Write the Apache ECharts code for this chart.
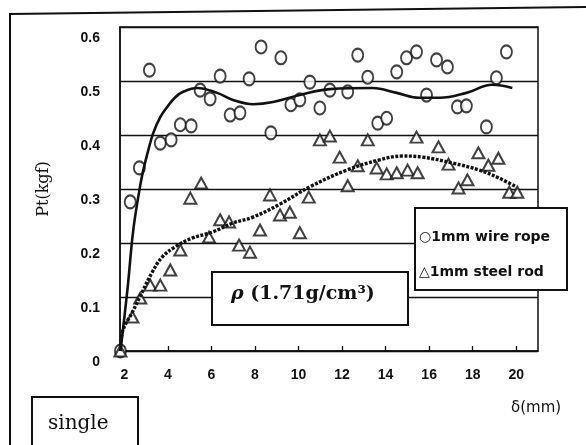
<!DOCTYPE html>
<html>
<head>
<meta charset="utf-8">
<script src="https://cdn.jsdelivr.net/npm/echarts@6/dist/echarts.min.js"></script>
<style>
  html, body { margin: 0; padding: 0; background: #fff; }
  #chart { width: 586px; height: 445px; }
</style>
</head>
<body>
<div id="chart"></div>
<script>
// measured points, 1mm wire rope (circles)
const ropeDelta = [1.82, 2.27, 2.69, 3.15, 3.65, 4.15, 4.57, 5.07, 5.48, 5.94, 6.40, 6.86, 7.31, 7.73, 8.28, 8.73, 9.19, 9.65, 10.06, 10.52, 10.98, 11.44, 12.26, 12.72, 13.18, 13.64, 14.05, 14.51, 14.96, 15.42, 15.88, 16.34, 16.84, 17.30, 17.71, 18.63, 19.09, 19.55]
const ropePt = [0, 0.276, 0.339, 0.52, 0.385, 0.391, 0.419, 0.417, 0.483, 0.467, 0.509, 0.437, 0.441, 0.504, 0.563, 0.404, 0.543, 0.456, 0.465, 0.498, 0.45, 0.483, 0.48, 0.548, 0.507, 0.422, 0.431, 0.517, 0.543, 0.554, 0.474, 0.539, 0.526, 0.452, 0.454, 0.415, 0.506, 0.554]

// measured points, 1mm steel rod (triangles)
const rodDelta = [1.82, 2.37, 2.73, 3.19, 3.65, 4.11, 4.57, 5.03, 5.53, 5.89, 6.40, 6.81, 7.27, 7.77, 8.23, 8.69, 9.15, 9.60, 10.06, 10.47, 10.98, 11.44, 11.89, 12.26, 12.72, 13.18, 13.59, 14.05, 14.51, 15.01, 15.47, 15.42, 16.43, 16.89, 17.35, 17.76, 18.26, 18.72, 19.18, 19.68, 20.05]
const rodPt = [0, 0.063, 0.098, 0.122, 0.122, 0.15, 0.187, 0.283, 0.311, 0.211, 0.243, 0.239, 0.196, 0.183, 0.224, 0.289, 0.252, 0.257, 0.219, 0.285, 0.391, 0.398, 0.359, 0.306, 0.343, 0.391, 0.339, 0.328, 0.33, 0.335, 0.33, 0.396, 0.378, 0.346, 0.302, 0.317, 0.367, 0.344, 0.357, 0.294, 0.294]

// trend curves
const ropeFitDelta = [1.82, 2.14, 2.41, 2.73, 2.87, 3.10, 3.33, 3.65, 3.97, 4.34, 4.70, 5.34, 6.26, 6.99, 7.91, 8.83, 10.06, 11.44, 13.41, 14.51, 15.56, 16.48, 17.71, 18.90, 19.82]
const ropeFitPt = [0, 0.113, 0.224, 0.307, 0.335, 0.372, 0.404, 0.433, 0.452, 0.47, 0.48, 0.487, 0.478, 0.465, 0.457, 0.461, 0.474, 0.485, 0.487, 0.478, 0.469, 0.469, 0.478, 0.493, 0.487]
const rodFitDelta = [1.82, 1.91, 2.37, 2.82, 3.28, 3.74, 4.34, 5.11, 6.03, 6.99, 7.91, 9.15, 10.52, 12.22, 13.73, 14.78, 15.70, 17.07, 18.31, 19.22, 20.0]
const rodFitPt = [0, 0.035, 0.072, 0.109, 0.146, 0.174, 0.193, 0.209, 0.22, 0.237, 0.248, 0.272, 0.304, 0.335, 0.354, 0.361, 0.359, 0.348, 0.335, 0.32, 0.304]

const xTicks = [2, 4, 6, 8, 10, 12, 14, 16, 18, 20]

const zip = (a, b) => a.map((v, i) => [v, b[i]])

const myChart = echarts.init(document.getElementById('chart'))

myChart.setOption({
  backgroundColor: '#fff',
  animation: false,
  grid: {
    left: 120, top: 27, width: 418, height: 324,
    show: true, borderColor: '#111', borderWidth: 1.5
  },
  xAxis: {
    type: 'value', min: 1.8, max: 21,
    axisLine: { lineStyle: { color: '#111', width: 1.5 } },
    axisTick: { inside: true, length: 5, customValues: xTicks, lineStyle: { color: '#111', width: 1.3 } },
    axisLabel: {
      customValues: xTicks, margin: 17,
      color: '#111', fontFamily: 'Liberation Sans', fontWeight: 'bold', fontSize: 14
    },
    splitLine: { show: false }
  },
  yAxis: {
    type: 'value', min: 0, max: 0.6, interval: 0.1,
    name: 'Pt(kgf)', nameLocation: 'middle', nameGap: 68, nameRotate: 90,
    nameTextStyle: { fontFamily: 'DejaVu Serif', fontSize: 16, color: '#111' },
    axisLine: { show: true, lineStyle: { color: '#111', width: 1.5 } },
    axisTick: { show: false },
    axisLabel: {
      margin: 20, verticalAlign: 'top', lineHeight: 22,
      color: '#111', fontFamily: 'Liberation Sans', fontWeight: 'bold', fontSize: 14,
      formatter: v => (v === 0 ? '0' : v.toFixed(1))
    },
    splitLine: { lineStyle: { color: '#111', width: 1.3 } }
  },
  series: [
    {
      name: '1mm wire rope', type: 'scatter',
      data: zip(ropeDelta, ropePt),
      symbol: 'emptyCircle', symbolSize: [11, 13],
      itemStyle: { color: '#111', borderWidth: 1.4 }
    },
    {
      name: '1mm steel rod', type: 'scatter',
      data: zip(rodDelta, rodPt),
      symbol: 'emptyTriangle', symbolSize: [12, 11],
      itemStyle: { color: '#111', borderWidth: 1.4 }
    },
    {
      type: 'line', data: zip(ropeFitDelta, ropeFitPt),
      smooth: 0.4, showSymbol: false, silent: true,
      lineStyle: { color: '#111', width: 2.6 }
    },
    {
      type: 'line', data: zip(rodFitDelta, rodFitPt),
      smooth: 0.4, showSymbol: false, silent: true,
      lineStyle: { color: '#111', width: 3.4, type: [3, 1.5] }
    }
  ],
  graphic: [
    // outer frame of the scanned figure
    { type: 'polyline', z: 10, shape: { points: [[10, 445], [10, 14], [586, 7]] }, style: { stroke: '#111', lineWidth: 2, fill: null } },
    // density box
    {
      type: 'rect', z: 20, shape: { x: 212, y: 272, width: 196, height: 53 },
      style: { fill: '#fff', stroke: '#111', lineWidth: 2 }
    },
    {
      type: 'text', z: 21, left: 231, top: 285,
      style: {
        text: '{i|ρ} (1.71g/cm³)', fill: '#111',
        font: 'bold 19px "DejaVu Serif"',
        rich: { i: { fontStyle: 'italic', fontFamily: 'DejaVu Serif', fontSize: 19, fontWeight: 'bold' } }
      }
    },
    // legend box
    {
      type: 'rect', z: 20, shape: { x: 415, y: 208, width: 152, height: 82 },
      style: { fill: '#fff', stroke: '#111', lineWidth: 2 }
    },
    { type: 'text', z: 21, left: 419, top: 230, style: { text: '○1mm wire rope', fill: '#111', font: 'bold 14px "DejaVu Sans"' } },
    { type: 'text', z: 21, left: 419, top: 265, style: { text: '△1mm steel rod', fill: '#111', font: 'bold 14px "DejaVu Sans"' } },
    // x axis title
    { type: 'text', z: 21, left: 511, top: 401, style: { text: 'δ(mm)', fill: '#111', font: '15px "DejaVu Sans"' } },
    // "single" box
    {
      type: 'polyline', z: 20, shape: { points: [[32, 445], [32, 397], [138, 397], [138, 445]] },
      style: { stroke: '#111', lineWidth: 2, fill: null }
    },
    { type: 'text', z: 21, left: 48, top: 414, style: { text: 'single', fill: '#111', font: '20px "DejaVu Serif"' } }
  ]
})
</script>
</body>
</html>
